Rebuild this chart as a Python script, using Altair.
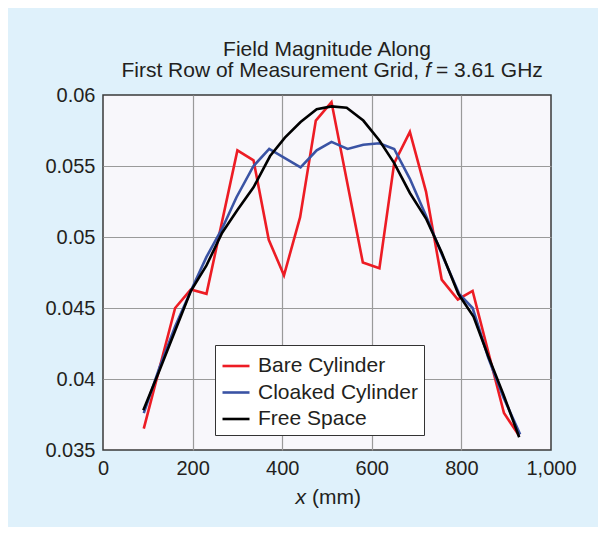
import altair as alt
import pandas as pd

# ---- data ----
bare_x = [91, 161, 196, 231, 300, 336, 370, 404, 440, 475, 510, 580, 617, 650, 685, 721, 756, 792, 825, 895, 929]
bare_y = [0.0365, 0.0450, 0.0463, 0.0460, 0.0561, 0.0554, 0.0498, 0.0473, 0.0514, 0.0582, 0.0595,
          0.0482, 0.0478, 0.0552, 0.0574, 0.0532, 0.0470, 0.0456, 0.0462, 0.0376, 0.0360]

cloak_x = [91, 126, 161, 196, 231, 266, 298, 336, 371, 441, 477, 510, 546, 581, 617, 650, 685, 721, 756, 795, 825, 860, 894, 931]
cloak_y = [0.0376, 0.0408, 0.0437, 0.0462, 0.0486, 0.0506, 0.0528, 0.0550, 0.0562, 0.0549, 0.0561, 0.0567,
           0.0562, 0.0565, 0.0566, 0.0562, 0.0541, 0.0515, 0.0488, 0.0460, 0.0450, 0.0415, 0.0387, 0.0361]

free_x = [90, 126, 161, 196, 231, 266, 300, 336, 373, 406, 441, 477, 510, 544, 581, 617, 650, 685, 721, 756, 793, 827, 860, 894, 929]
free_y = [0.0378, 0.0406, 0.0434, 0.0462, 0.0480, 0.0503, 0.0519, 0.0535, 0.0557, 0.0570, 0.0581, 0.0590,
          0.0592, 0.0591, 0.0582, 0.0568, 0.0552, 0.0531, 0.0513, 0.0489, 0.0460, 0.0444, 0.0416, 0.0389, 0.0359]

series_names = ["Bare Cylinder", "Cloaked Cylinder", "Free Space"]
series_colors = ["#ed1c24", "#3a53a4", "#000000"]

x_ticks = [0, 200, 400, 600, 800, 1000]
y_ticks = [0.035, 0.04, 0.045, 0.05, 0.055, 0.06]

title_line1 = "Field Magnitude Along"
title_line2a = "First Row of Measurement Grid,"
title_line2b = "f"
title_line2c = "= 3.61 GHz"
xtitle_a = "x"
xtitle_b = "(mm)"

FONT = "Liberation Sans, Arial, Helvetica, sans-serif"
W, H = 448, 355

rows = []
for name, xs, ys in [(series_names[0], bare_x, bare_y),
                     (series_names[1], cloak_x, cloak_y),
                     (series_names[2], free_x, free_y)]:
    for i, (xv, yv) in enumerate(zip(xs, ys)):
        rows.append({"series": name, "x": xv, "y": yv, "order": i})
df = pd.DataFrame(rows)

xscale = alt.Scale(domain=[0, 1000], nice=False, zero=False)
yscale = alt.Scale(domain=[0.035, 0.06], nice=False, zero=False)

lines = alt.Chart(df).mark_line(strokeWidth=2.6, strokeJoin="miter", clip=False).encode(
    x=alt.X("x:Q", scale=xscale,
            axis=alt.Axis(values=x_ticks, format=",d", title=None, labelPadding=8, labelFlush=False,
                          gridOpacity=alt.ExprRef("datum.value <= 0 || datum.value >= 1000 ? 0 : 1"))),
    y=alt.Y("y:Q", scale=yscale,
            axis=alt.Axis(values=y_ticks, format=".3~f", title=None, labelPadding=8, labelFlush=False,
                          gridOpacity=alt.ExprRef("datum.value < 0.0355 || datum.value > 0.0595 ? 0 : 1"))),
    color=alt.Color("series:N",
                    scale=alt.Scale(domain=series_names, range=series_colors),
                    legend=alt.Legend(orient="none", legendX=112, legendY=250, title=None,
                                      symbolType="stroke", symbolSize=729, symbolStrokeWidth=2.6,
                                      labelFontSize=21, labelFont=FONT, labelColor="#231f20",
                                      fillColor="white", strokeColor="#333333",
                                      padding=6, rowPadding=1.5, labelOffset=7, labelLimit=400)),
    order="order:Q",
)


def txt(s, xpx, ypx, align="center", italic=False):
    return alt.Chart(pd.DataFrame({"t": [s]})).mark_text(
        align=align, baseline="alphabetic", fontSize=21, font=FONT,
        fontStyle="italic" if italic else "normal", color="#231f20", clip=False
    ).encode(text="t:N", x=alt.value(xpx), y=alt.value(ypx))


texts = [
    txt(title_line1, 224, -39),
    txt(title_line2a, 316, -18, align="right"),
    txt(title_line2b, 322, -18, align="left", italic=True),
    txt(title_line2c, 333, -18, align="left"),
    txt(xtitle_a, 203, 409, align="right", italic=True),
    txt(xtitle_b, 209, 409, align="left"),
]

chart = alt.layer(lines, *texts).properties(
    width=W, height=H,
    autosize=alt.AutoSizeParams(type="none"),
    padding={"left": 95, "top": 87, "right": 47, "bottom": 77},
    background="#dff1fb",
).configure_view(
    fill="#f8f7fb", stroke="#3a3a3a", strokeWidth=1.5
).configure_axis(
    labelFont=FONT, labelFontSize=20, labelColor="#231f20",
    gridColor="#9a9a9a", gridWidth=1.2, domain=False, ticks=False, tickSize=0,
)

chart.save("out.html", embed_options={"renderer": "svg", "actions": False})
